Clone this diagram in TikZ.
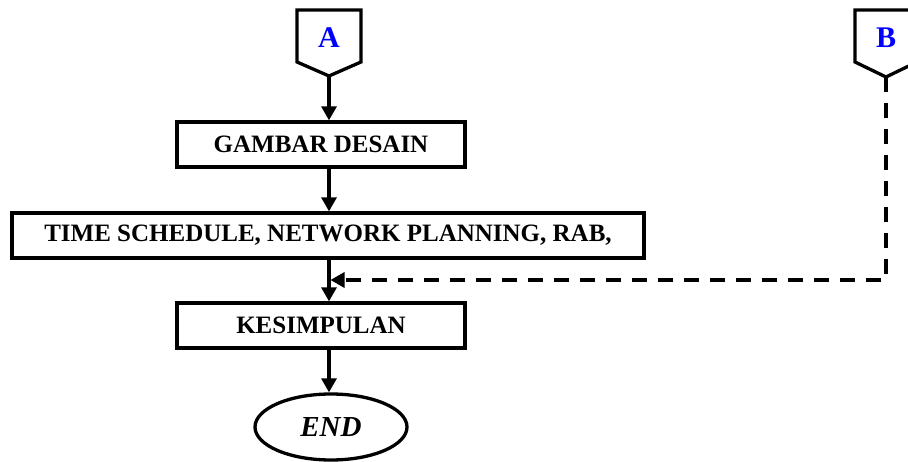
\documentclass[tikz,border=0pt]{standalone}
\usepackage{fontspec}
\setmainfont{Liberation Serif}
\usetikzlibrary{arrows.meta,shapes.geometric}
\begin{document}
\begin{tikzpicture}[x=1pt,y=-1pt,
  box/.style={draw,line width=3.3pt,rectangle,inner sep=0pt,minimum height=45pt,font=\bfseries\fontsize{25}{28}\selectfont},
  conn/.style={draw,line width=3.3pt,line join=miter},
  arr/.style={line width=3.2pt,-{Triangle[length=14pt,width=15pt]}},
  darr/.style={arr,dash pattern=on 15pt off 11pt},
  lbl/.style={text=blue,font=\bfseries\fontsize{30}{34}\selectfont}]
\useasboundingbox (0,0) rectangle (908,462);
% off-page connector A
\draw[conn] (297,10) -- (361,10) -- (361,62) -- (329,76) -- (297,62) -- cycle;
\node[lbl] (A) at (329,38) {A};
\coordinate (Atip) at (329,76);
% off-page connector B
\draw[conn] (855,10) -- (917,10) -- (917,62) -- (886,77) -- (855,62) -- cycle;
\node[lbl] (B) at (886,38) {B};
\coordinate (Btip) at (886,77);
% boxes
\node[box,minimum width=288pt] (gam) at (321,144.5) {GAMBAR DESAIN};
\node[box,minimum width=632pt] (time) at (328,235.5) {TIME SCHEDULE, NETWORK PLANNING, RAB,};
\node[box,minimum width=288pt] (kes) at (321,325.5) {KESIMPULAN};
\node[draw,line width=3.3pt,ellipse,inner sep=0pt,minimum width=152pt,minimum height=66pt,
  font=\bfseries\itshape\fontsize{29}{32}\selectfont] (endn) at (331,427) {END};
\coordinate (J) at (329,280);
% connectors
\draw[arr] (Atip) -- (Atip |- gam.north);
\draw[arr] (Atip |- gam.south) -- (Atip |- time.north);
\draw[arr] (Atip |- time.south) -- (Atip |- kes.north);
\draw[arr] (Atip |- kes.south) -- (Atip |- endn.north);
\draw[darr,shorten >=1.5pt] (Btip) |- (J);
\end{tikzpicture}
\end{document}
